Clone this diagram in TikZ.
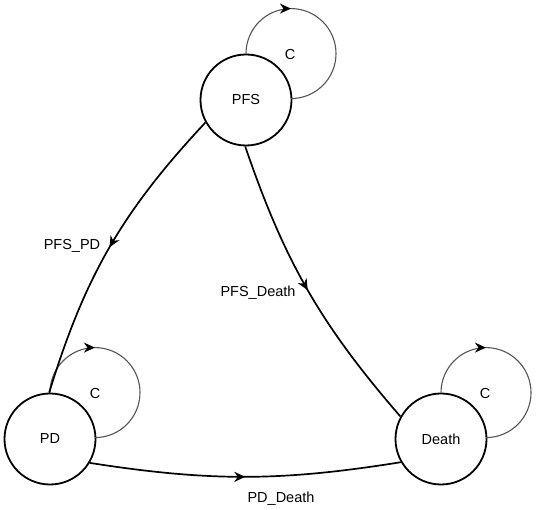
\documentclass[tikz,border=0pt]{standalone}
\usepackage{fontspec}
\setmainfont{Liberation Sans}
\usetikzlibrary{arrows.meta,decorations.markings}
\definecolor{loopgray}{HTML}{555555}
\begin{document}
\begin{tikzpicture}[x=1bp,y=1bp,
  state/.style={circle,draw=black,line width=1.8bp,minimum size=91bp,inner sep=0pt,font=\fontsize{14.5bp}{17bp}\selectfont},
  lbl/.style={font=\fontsize{14.5bp}{17bp}\selectfont,inner sep=0pt},
  midarrow/.style={postaction={decorate},decoration={markings,mark=at position #1 with {\arrow[black]{Stealth[length=11bp,width=10bp,inset=3.5bp]}}}},
  trans/.style={line width=1.7bp,draw=black},
  selfloop/.style={line width=1.1bp,draw=loopgray},
]
\useasboundingbox (0,0) rectangle (536,510);
\node[state] (PFS) at (246,410) {PFS};
\node[state] (PD) at (50,71) {PD};
\node[state] (Death) at (441,71) {Death};

\draw[selfloop, midarrow=0.333] (PFS.north) arc[start angle=180,end angle=-90,radius=45];
\draw[selfloop, midarrow=0.333] (PD.north) arc[start angle=180,end angle=-90,radius=45];
\draw[selfloop, midarrow=0.333] (Death.north) arc[start angle=180,end angle=-90,radius=45];

\draw[trans, midarrow=0.5] (PFS.209) to[bend right=13] (PD.91);
\draw[trans, midarrow=0.5] (PFS.269) to[bend right=11] (Death.151);
\draw[trans, midarrow=0.5] (PD.329) to[bend right=9] (Death.210);

\node[lbl] (cPFS) at (290,455) {C};
\node[lbl] (cPD) at (95,116) {C};
\node[lbl] (cDeath) at (485,116) {C};

\node[lbl, anchor=base] (lPFSPD) at (72,260) {PFS\_PD};
\node[lbl, anchor=base] (lPFSDeath) at (258,213) {PFS\_Death};
\node[lbl, anchor=base] (lPDDeath) at (281,7) {PD\_Death};
\end{tikzpicture}
\end{document}
